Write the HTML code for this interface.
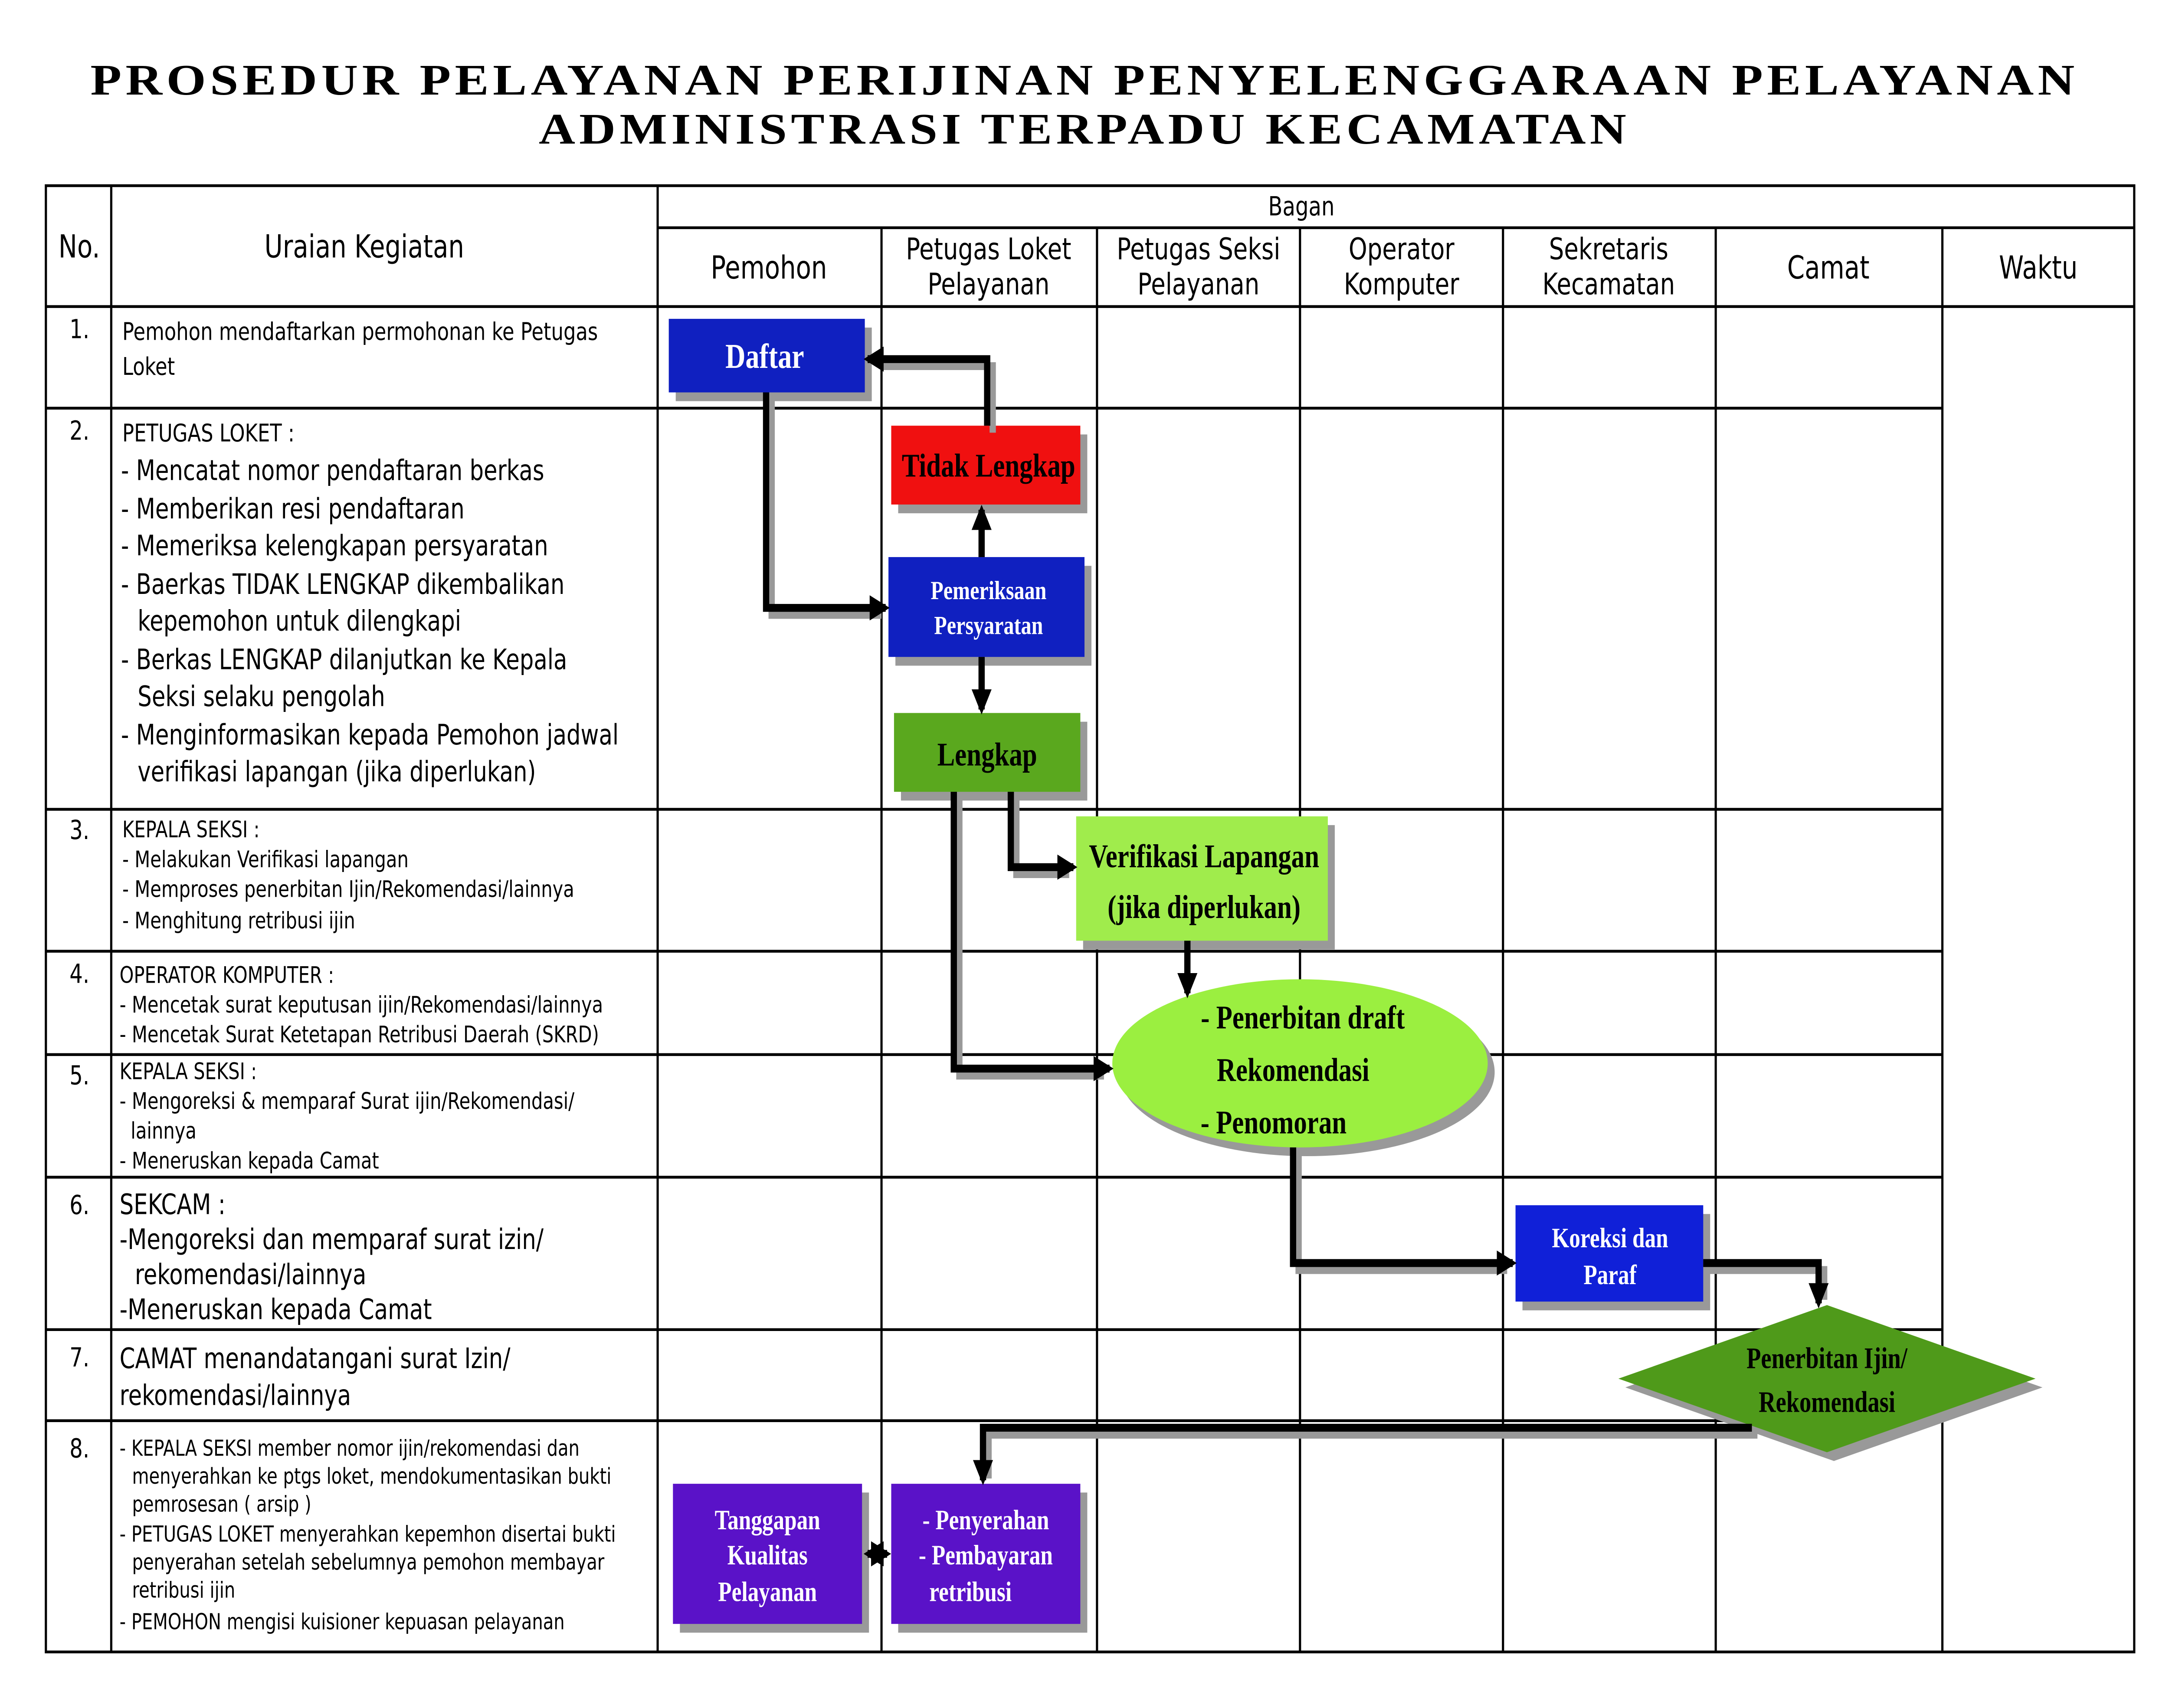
<!DOCTYPE html>
<html><head><meta charset="utf-8"><style>
html,body{margin:0;padding:0;background:#fff;overflow:hidden;width:100%;height:100%}
svg{display:block;width:100vw;height:100vh}
.t{font-family:"DejaVu Sans","Liberation Sans",sans-serif;fill:#000}
.b{font-family:"Liberation Serif",serif;font-weight:bold}
</style></head><body>
<svg viewBox="0 0 1560 975" preserveAspectRatio="none" xmlns="http://www.w3.org/2000/svg">
<defs><marker id="a" viewBox="0 0 10 10" refX="8" refY="5" markerWidth="3.2" markerHeight="3.2" orient="auto-start-reverse"><path d="M0,0L10,5L0,10z" fill="#000"/></marker></defs>
<text x="780" y="54" text-anchor="middle" class="b" font-size="25" letter-spacing="2" textLength="1430" lengthAdjust="spacingAndGlyphs">PROSEDUR PELAYANAN PERIJINAN PENYELENGGARAAN PELAYANAN</text>
<text x="780" y="82" text-anchor="middle" class="b" font-size="25" letter-spacing="2" textLength="785" lengthAdjust="spacingAndGlyphs">ADMINISTRASI TERPADU KECAMATAN</text>
<g stroke="#000" stroke-width="1.6" fill="none">
<rect x="33" y="106" width="1502" height="837"/>
<line x1="80" y1="106" x2="80" y2="943"/>
<line x1="473" y1="106" x2="473" y2="943"/>
<line x1="473" y1="130" x2="1535" y2="130"/>
<line x1="634" y1="130" x2="634" y2="943"/>
<line x1="789" y1="130" x2="789" y2="943"/>
<line x1="935" y1="130" x2="935" y2="943"/>
<line x1="1081" y1="130" x2="1081" y2="943"/>
<line x1="1234" y1="130" x2="1234" y2="943"/>
<line x1="1397" y1="130" x2="1397" y2="943"/>
<line x1="33" y1="175" x2="1535" y2="175"/>
<line x1="33" y1="233" x2="1397" y2="233"/>
<line x1="33" y1="462" x2="1397" y2="462"/>
<line x1="33" y1="543" x2="1397" y2="543"/>
<line x1="33" y1="602" x2="1397" y2="602"/>
<line x1="33" y1="672" x2="1397" y2="672"/>
<line x1="33" y1="759" x2="1397" y2="759"/>
<line x1="33" y1="811" x2="1397" y2="811"/>
</g>
<g class="t" font-size="18" text-anchor="middle">
<text x="57" y="147">No.</text><text x="262" y="147">Uraian Kegiatan</text>
<text x="936" y="123" font-size="15">Bagan</text>
<text x="553" y="159">Pemohon</text>
<text x="711" y="148" font-size="17">Petugas Loket</text><text x="711" y="168" font-size="17">Pelayanan</text>
<text x="862" y="148" font-size="17">Petugas Seksi</text><text x="862" y="168" font-size="17">Pelayanan</text>
<text x="1008" y="148" font-size="17">Operator</text><text x="1008" y="168" font-size="17">Komputer</text>
<text x="1157" y="148" font-size="17">Sekretaris</text><text x="1157" y="168" font-size="17">Kecamatan</text>
<text x="1315" y="159">Camat</text><text x="1466" y="159">Waktu</text>
</g>
<g class="t" font-size="15">
<text x="50" y="193">1.</text><text x="50" y="251">2.</text><text x="50" y="479">3.</text><text x="50" y="561">4.</text><text x="50" y="619">5.</text><text x="50" y="693">6.</text><text x="50" y="780">7.</text><text x="50" y="832">8.</text>
<text x="88" y="194" font-size="14">Pemohon mendaftarkan permohonan ke Petugas</text>
<text x="88" y="214" font-size="14">Loket</text>
<text x="88" y="252" font-size="14">PETUGAS LOKET :</text>
<text x="87" y="274" font-size="16">- Mencatat nomor pendaftaran berkas</text>
<text x="87" y="296" font-size="16">- Memberikan resi pendaftaran</text>
<text x="87" y="317" font-size="16">- Memeriksa kelengkapan persyaratan</text>
<text x="87" y="339" font-size="16">- Baerkas TIDAK LENGKAP dikembalikan</text>
<text x="99" y="360" font-size="16">kepemohon untuk dilengkapi</text>
<text x="87" y="382" font-size="16">- Berkas LENGKAP dilanjutkan ke Kepala</text>
<text x="99" y="403" font-size="16">Seksi selaku pengolah</text>
<text x="87" y="425" font-size="16">- Menginformasikan kepada Pemohon jadwal</text>
<text x="99" y="446" font-size="16">verifikasi lapangan (jika diperlukan)</text>
<text x="88" y="478" font-size="13">KEPALA SEKSI :</text>
<text x="88" y="495" font-size="13">- Melakukan Verifikasi lapangan</text>
<text x="88" y="512" font-size="13">- Memproses penerbitan Ijin/Rekomendasi/lainnya</text>
<text x="88" y="530" font-size="13">- Menghitung retribusi ijin</text>
<text x="86" y="561" font-size="13">OPERATOR KOMPUTER :</text>
<text x="86" y="578" font-size="13">- Mencetak surat keputusan ijin/Rekomendasi/lainnya</text>
<text x="86" y="595" font-size="13">- Mencetak Surat Ketetapan Retribusi Daerah (SKRD)</text>
<text x="86" y="616" font-size="13">KEPALA SEKSI :</text>
<text x="86" y="633" font-size="13">- Mengoreksi &amp; memparaf Surat ijin/Rekomendasi/</text>
<text x="94" y="650" font-size="13">lainnya</text>
<text x="86" y="667" font-size="13">- Meneruskan kepada Camat</text>
<text x="86" y="693" font-size="16">SEKCAM :</text>
<text x="86" y="713" font-size="16">-Mengoreksi dan memparaf surat izin/</text>
<text x="97" y="733" font-size="16">rekomendasi/lainnya</text>
<text x="86" y="753" font-size="16">-Meneruskan kepada Camat</text>
<text x="86" y="781" font-size="16">CAMAT menandatangani surat  Izin/</text>
<text x="86" y="802" font-size="16">rekomendasi/lainnya</text>
<g font-size="12.5"><text x="86" y="831">- KEPALA SEKSI member nomor ijin/rekomendasi dan</text>
<text x="95" y="847">menyerahkan ke ptgs loket, mendokumentasikan bukti</text>
<text x="95" y="863">pemrosesan ( arsip )</text>
<text x="86" y="880">- PETUGAS LOKET menyerahkan kepemhon disertai bukti</text>
<text x="95" y="896">penyerahan setelah sebelumnya pemohon membayar</text>
<text x="95" y="912">retribusi ijin</text>
<text x="86" y="930">- PEMOHON mengisi kuisioner kepuasan pelayanan</text></g>
</g>
<g fill="#999">
<rect x="486" y="187" width="141" height="42"/><rect x="646" y="248" width="136" height="45"/>
<rect x="644" y="323" width="141" height="57"/><rect x="648" y="412" width="134" height="45"/>
<rect x="779" y="471" width="181" height="71"/><ellipse cx="940" cy="612" rx="135" ry="48"/>
<rect x="1095" y="693" width="135" height="55"/><polygon points="1169,792 1319,750 1469,792 1319,834"/>
<rect x="489" y="852" width="136" height="80"/><rect x="646" y="852" width="136" height="80"/>
</g>
<rect x="481" y="182" width="141" height="42" fill="#1020c0"/>
<rect x="641" y="243" width="136" height="45" fill="#f01010"/>
<rect x="639" y="318" width="141" height="57" fill="#1020c0"/>
<rect x="643" y="407" width="134" height="45" fill="#5aa81e"/>
<rect x="774" y="466" width="181" height="71" fill="#a0ec4c"/>
<ellipse cx="935" cy="607" rx="135" ry="48" fill="#9bef40"/>
<rect x="1090" y="688" width="135" height="55" fill="#1020d8"/>
<polygon points="1164,787 1314,745 1464,787 1314,829" fill="#4f9a1a"/>
<rect x="484" y="847" width="136" height="80" fill="#5a12c8"/>
<rect x="641" y="847" width="136" height="80" fill="#5a12c8"/>
<g class="b" text-anchor="middle">
<text x="550" y="210" font-size="20" fill="#fff">Daftar</text>
<text x="711" y="272" font-size="19" fill="#000">Tidak Lengkap</text>
<text x="711" y="342" font-size="15" fill="#fff">Pemeriksaan</text><text x="711" y="362" font-size="15" fill="#fff">Persyaratan</text>
<text x="710" y="437" font-size="19" fill="#000">Lengkap</text>
<text x="866" y="495" font-size="19" fill="#000">Verifikasi Lapangan</text><text x="866" y="524" font-size="19" fill="#000">(jika diperlukan)</text>
<text x="937" y="587" font-size="19" fill="#000">- Penerbitan draft</text>
<text x="930" y="617" font-size="19" fill="#000">Rekomendasi</text>
<text x="916" y="647" font-size="19" fill="#000">- Penomoran</text>
<text x="1158" y="712" font-size="16" fill="#fff">Koreksi dan</text><text x="1158" y="733" font-size="16" fill="#fff">Paraf</text>
<text x="1314" y="781" font-size="17" fill="#000">Penerbitan Ijin/</text><text x="1314" y="806" font-size="17" fill="#000">Rekomendasi</text>
<text x="552" y="873" font-size="16" fill="#fff">Tanggapan</text><text x="552" y="893" font-size="16" fill="#fff">Kualitas</text><text x="552" y="914" font-size="16" fill="#fff">Pelayanan</text>
<text x="709" y="873" font-size="16" fill="#fff">- Penyerahan</text><text x="709" y="893" font-size="16" fill="#fff">- Pembayaran</text><text x="698" y="914" font-size="16" fill="#fff">retribusi</text>
</g>
<g stroke="#999" stroke-width="4.5" fill="none" transform="translate(4,4)">
<polyline points="710,243 710,205 630,205"/><polyline points="551,224 551,347 630,347"/>
<polyline points="727,452 727,495 765,495"/><polyline points="686,452 686,610 790,610"/>
<polyline points="930,655 930,721 1080,721"/><polyline points="1225,721 1308,721 1308,738"/>
<polyline points="1260,815 707,815 707,840"/>
</g>
<g stroke="#000" stroke-width="4.5" fill="none" marker-end="url(#a)">
<polyline points="710,243 710,205 624,205"/>
<polyline points="551,224 551,347 637,347"/>
<line x1="706" y1="318" x2="706" y2="291"/>
<line x1="706" y1="375" x2="706" y2="405"/>
<polyline points="727,452 727,495 772,495"/>
<polyline points="686,452 686,610 798,610"/>
<line x1="854" y1="537" x2="854" y2="567"/>
<polyline points="930,655 930,721 1088,721"/>
<polyline points="1225,721 1308,721 1308,744"/>
<polyline points="1260,815 707,815 707,845"/>
<line x1="624" y1="887" x2="638" y2="887" marker-start="url(#a)"/>
</g>
</svg>
</body></html>
